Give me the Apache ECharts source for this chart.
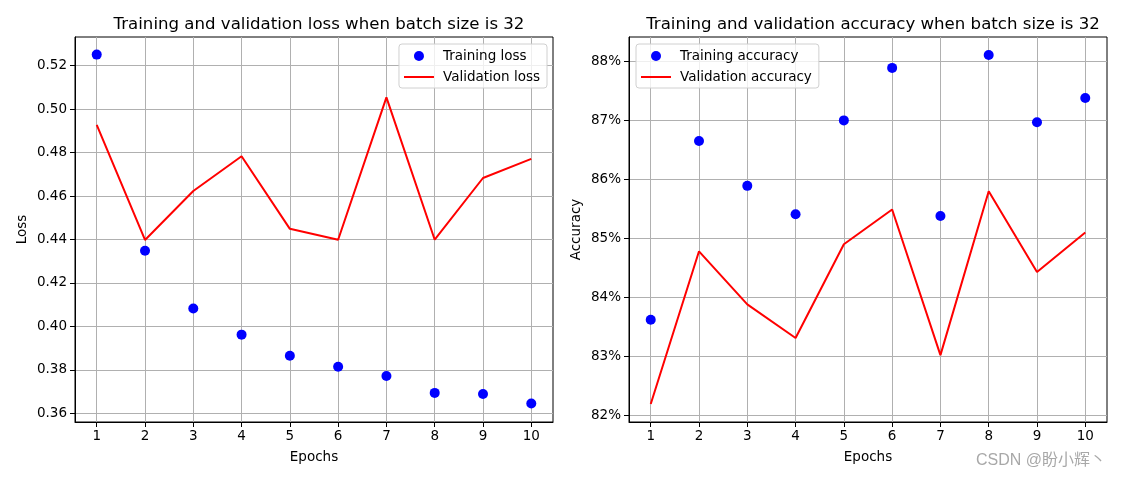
<!DOCTYPE html>
<html>
<head>
<meta charset="utf-8">
<script src="https://cdn.jsdelivr.net/npm/echarts@6/dist/echarts.min.js"></script>
<style>html,body{margin:0;padding:0;background:#fff}#c{width:1122px;height:480px}</style>
</head>
<body>
<div id="c"></div>
<script>
const epochs = [1, 2, 3, 4, 5, 6, 7, 8, 9, 10];
const trainLoss = [0.5251, 0.4348, 0.4082, 0.3962, 0.3865, 0.3814, 0.3772, 0.3694, 0.3689, 0.3645];
const valLoss = [0.4928, 0.4398, 0.4623, 0.4783, 0.4449, 0.4399, 0.5054, 0.4399, 0.4683, 0.4771];
const trainAcc = [83.62, 86.65, 85.89, 85.41, 87.00, 87.89, 85.38, 88.11, 86.97, 87.38];
const valAcc = [82.19, 84.78, 83.88, 83.31, 84.90, 85.49, 83.02, 85.80, 84.43, 85.10];
const lossTicks = [0.36, 0.38, 0.40, 0.42, 0.44, 0.46, 0.48, 0.50, 0.52];
const accTicks = [82, 83, 84, 85, 86, 87, 88];

const FONT = 'DejaVu Sans, Noto Sans CJK SC, sans-serif';
const FS = 13.5;
const pair = (xs, ys) => xs.map((x, i) => [x, ys[i]]);

function xAxis(gi) {
  return {
    type: 'value', gridIndex: gi, min: 0.55, max: 10.45,
    name: 'Epochs', nameLocation: 'middle', nameGap: 29,
    nameTextStyle: { color: '#000', fontSize: FS, fontFamily: FONT },
    axisLine: { show: true, onZero: false, lineStyle: { color: '#000', width: 1 } },
    axisTick: { show: true, customValues: epochs, length: 5, lineStyle: { color: '#000' } },
    axisLabel: { customValues: epochs, color: '#000', fontSize: FS, fontFamily: FONT, margin: 8 },
    splitLine: { show: true, lineStyle: { color: '#b0b0b0', width: 1 } }
  };
}
function yAxis(gi, min, max, ticks, fmt, name, gap) {
  return {
    type: 'value', gridIndex: gi, min: min, max: max,
    name: name, nameLocation: 'middle', nameGap: gap,
    nameTextStyle: { color: '#000', fontSize: FS, fontFamily: FONT },
    axisLine: { show: true, onZero: false, lineStyle: { color: '#000', width: 1 } },
    axisTick: { show: true, customValues: ticks, length: 5, lineStyle: { color: '#000' } },
    axisLabel: { customValues: ticks, formatter: fmt, color: '#000', fontSize: FS, fontFamily: FONT, margin: 8 },
    splitLine: { show: true, lineStyle: { color: '#b0b0b0', width: 1 } }
  };
}
function legend(pos, names) {
  return Object.assign({
    orient: 'vertical', top: 44, selectedMode: false,
    data: [{ name: names[0], icon: 'circle' }, { name: names[1], itemStyle: { opacity: 0 } }],
    itemWidth: 30, itemHeight: 10, itemGap: 5,
    padding: [4, 7, 3, 4], borderColor: '#d0d0d0', borderWidth: 1, borderRadius: 3, backgroundColor: 'rgba(255,255,255,0.8)',
    textStyle: { color: '#000', fontSize: FS, fontFamily: FONT, lineHeight: 16, padding: [0, 0, 0, 4] }
  }, pos);
}

const chart = echarts.init(document.getElementById('c'), null, { renderer: 'canvas' });
chart.setOption({
  animation: false,
  backgroundColor: '#fff',
  textStyle: { fontFamily: FONT },
  title: [
    { text: 'Training and validation loss when batch size is 32', left: 314, top: 11, textAlign: 'center',
      textStyle: { color: '#000', fontSize: 16.6, fontWeight: 'normal', fontFamily: FONT } },
    { text: 'Training and validation accuracy when batch size is 32', left: 868, top: 11, textAlign: 'center',
      textStyle: { color: '#000', fontSize: 16.6, fontWeight: 'normal', fontFamily: FONT } }
  ],
  grid: [
    { left: 75, top: 37, width: 478, height: 385, show: true, borderColor: '#000', borderWidth: 1, containLabel: false },
    { left: 629, top: 37, width: 478, height: 385, show: true, borderColor: '#000', borderWidth: 1, containLabel: false }
  ],
  legend: [
    legend({ right: 575 }, ['Training loss', 'Validation loss']),
    legend({ left: 636 }, ['Training accuracy', 'Validation accuracy'])
  ],
  xAxis: [xAxis(0), xAxis(1)],
  yAxis: [
    yAxis(0, 0.356, 0.5332, lossTicks, v => v.toFixed(2), 'Loss', 46),
    yAxis(1, 81.886, 88.414, accTicks, v => v.toFixed(0) + '%', 'Accuracy', 46)
  ],
  series: [
    { name: 'Training loss', type: 'scatter', xAxisIndex: 0, yAxisIndex: 0, data: pair(epochs, trainLoss),
      symbol: 'circle', symbolSize: 10, itemStyle: { color: '#0000ff', opacity: 1 }, z: 3 },
    { name: 'Validation loss', type: 'line', xAxisIndex: 0, yAxisIndex: 0, data: pair(epochs, valLoss),
      symbol: 'none', showSymbol: false, lineStyle: { color: '#ff0000', width: 2 }, itemStyle: { color: '#ff0000' } },
    { name: 'Training accuracy', type: 'scatter', xAxisIndex: 1, yAxisIndex: 1, data: pair(epochs, trainAcc),
      symbol: 'circle', symbolSize: 10, itemStyle: { color: '#0000ff', opacity: 1 }, z: 3 },
    { name: 'Validation accuracy', type: 'line', xAxisIndex: 1, yAxisIndex: 1, data: pair(epochs, valAcc),
      symbol: 'none', showSymbol: false, lineStyle: { color: '#ff0000', width: 2 }, itemStyle: { color: '#ff0000' } }
  ],
  graphic: [
    { type: 'text', right: 16, top: 453,
      style: { text: 'CSDN @盼小辉丶', fill: '#a8a8a8', fontSize: 16, fontFamily: 'Liberation Sans, Noto Sans CJK SC, sans-serif' } }
  ]
});
</script>
</body>
</html>
